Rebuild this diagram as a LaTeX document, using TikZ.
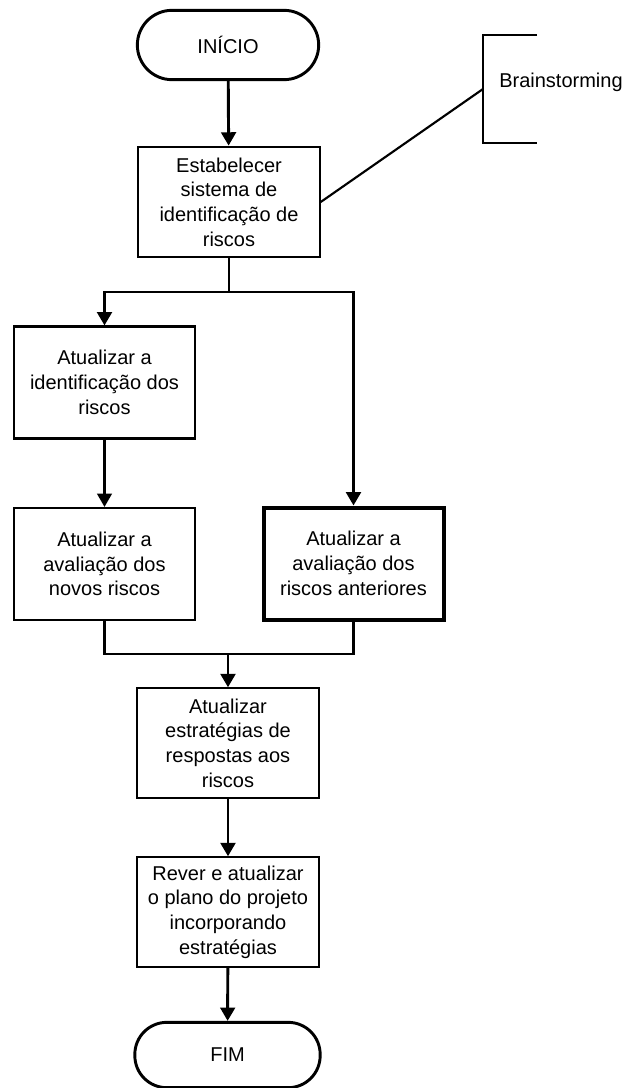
\documentclass[tikz,border=0pt]{standalone}
\usepackage{fontspec}
\setmainfont{Liberation Sans}
\usetikzlibrary{arrows.meta}
\tikzset{
  term/.style={draw, line width=2.2pt, rounded corners=26pt, minimum width=136pt, minimum height=52pt, align=center},
  stepbox/.style={draw, line width=1.6pt, minimum width=136pt, minimum height=84pt, align=center},
  arr/.style={line width=2.2pt, -{Triangle[width=11pt,length=10pt]}},
  lin/.style={line width=2.2pt}
}
\begin{document}
\begin{tikzpicture}[x=0.75pt, y=-0.75pt, font=\fontsize{15}{18.5}\selectfont]
    \useasboundingbox (0,0) rectangle (626,1088);
    \node[term] (inicio) at (228,45) {INÍCIO};
    \node[stepbox, minimum height=83pt] (estab) at (229,202) {Estabelecer\\sistema de\\identificação de\\riscos};
    \node (brain) at (561,82) {Brainstorming};
    \coordinate (annot) at (483,89);
    \draw[line width=1.6pt] (537,35) -- (483,35) -- (483,143) -- (537,143);
    \draw[line width=1.6pt] (estab.east) -- (annot);
    \draw[arr] (inicio) -- (estab);
    \coordinate (split) at (229,292);
    \node[stepbox] (ident) at (104.5,382.5) {Atualizar a\\identificação dos\\riscos};
    \node[stepbox] (novos) at (104.5,564) {Atualizar a\\avaliação dos\\novos riscos};
    \node[stepbox, line width=3pt, minimum width=135pt] (anter) at (353.5,563.5) {Atualizar a\\avaliação dos\\riscos anteriores};
    \draw[lin] (estab) -- (split);
    \draw[arr] (split) -| (ident.north);
    \draw[arr] (split) -| (anter.north);
    \draw[arr, line width=1.7pt] (ident) -- (novos);
    \coordinate (merge) at (228,654);
    \draw[lin] (novos.south) |- (merge) -| (anter.south);
    \node[stepbox, minimum height=82pt] (resp) at (228,743) {Atualizar\\estratégias de\\respostas aos\\riscos};
    \node[stepbox, minimum height=82pt] (rever) at (228,912) {Rever e atualizar\\o plano do projeto\\incorporando\\estratégias};
    \node[term, minimum width=139pt, minimum height=49pt, rounded corners=24pt] (fim) at (227.5,1055) {FIM};
    \draw[arr] (merge) -- (resp);
    \draw[arr] (resp) -- (rever);
    \draw[arr] (rever) -- (fim);
\end{tikzpicture}
\end{document}
